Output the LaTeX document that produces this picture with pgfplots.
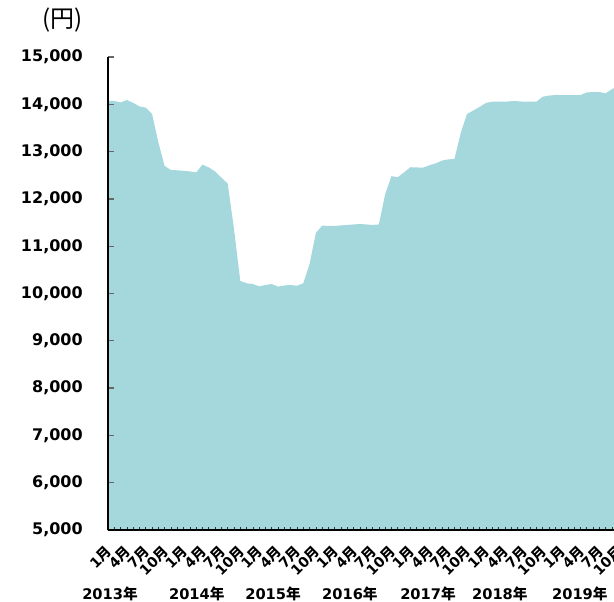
\documentclass[border=0pt]{standalone}
\usepackage{pgfplots}
\pgfplotsset{compat=1.18}
\usepackage{pgfplotstable}
\usepackage{fontspec}
\setmainfont{DejaVu Sans}
\newfontfamily\cjk{Noto Sans CJK JP}
\definecolor{areafill}{RGB}{164,216,220}
\newcommand\M{{\cjk 月}}
\newcommand\N{{\cjk 年}}
\pgfplotstableread{
i v
0 14070
1 14070
2 14040
3 14090
4 14030
5 13955
6 13930
7 13795
8 13190
9 12695
10 12610
11 12605
12 12595
13 12580
14 12560
15 12725
16 12665
17 12580
18 12450
19 12325
20 11365
21 10265
22 10215
23 10200
24 10150
25 10180
26 10200
27 10145
28 10170
29 10180
30 10165
31 10215
32 10625
33 11280
34 11435
35 11430
36 11430
37 11440
38 11450
39 11460
40 11470
41 11460
42 11450
43 11460
44 12100
45 12480
46 12460
47 12560
48 12670
49 12665
50 12660
51 12710
52 12750
53 12810
54 12835
55 12845
56 13395
57 13795
58 13870
59 13945
60 14030
61 14055
62 14055
63 14055
64 14065
65 14065
66 14055
67 14055
68 14055
69 14160
70 14185
71 14195
72 14195
73 14195
74 14195
75 14195
76 14250
77 14260
78 14260
79 14230
80 14320
81 14380
}\prices
\begin{document}
\begin{tikzpicture}
\begin{axis}[
  scale only axis, width=382.7pt, height=354.75pt,
  xmin=0, xmax=81, ymin=5000, ymax=15000,
  axis x line*=bottom, axis y line*=left,
  axis line style={black, line width=0.9pt},
  axis on top, clip=false,
  tick align=inside,
  scaled y ticks=false,
  ytick={5000,6000,...,15000},
  xtick={0,3,...,81}, minor xtick={0,1,...,81},
  xticklabels={1\M,4\M,7\M,10\M,1\M,4\M,7\M,10\M,1\M,4\M,7\M,10\M,1\M,4\M,7\M,10\M,1\M,4\M,7\M,10\M,1\M,4\M,7\M,10\M,1\M,4\M,7\M,10\M},
  ytick style={gray!80!black, line width=1pt, /pgfplots/major tick length=4.5pt},
  xtick style={black!80, line width=0.5pt, /pgfplots/major tick length=2.25pt},
  minor x tick style={black!80, line width=0.5pt},
  minor tick length=2.25pt,
  /pgf/number format/.cd, 1000 sep={,}, assume math mode=true, /pgfplots/.cd,
  yticklabel style={font=\bfseries\fontsize{12}{12}\selectfont, anchor=east, inner sep=0pt, xshift=-18.75pt},
  xticklabel style={font=\bfseries\fontsize{10.5}{11}\selectfont, yshift=-14.5pt, xshift=1pt, rotate=45, anchor=east, inner sep=0pt},
]
\addplot[fill=areafill, draw=none] table[x=i, y=v] {\prices} \closedcycle;
\coordinate (O) at (rel axis cs:0,0);
\coordinate (T) at (rel axis cs:0,1);
\node[font=\cjk\fontsize{18}{18}\selectfont, anchor=center, xshift=-34pt, yshift=27.75pt] at (rel axis cs:0,1) {(円)};
\foreach \yr/\p in {2013/0.32, 2014/14.1, 2015/26.2, 2016/38.4, 2017/50.8, 2018/62.2, 2019/74.9}{
  \edef\tmp{\noexpand\node[font=\noexpand\bfseries\noexpand\fontsize{11}{12}\noexpand\selectfont, anchor=base, yshift=-51.75pt] at (axis cs:\p,5000) {\yr\noexpand\N};}
  \tmp
}
\end{axis}
\pgfresetboundingbox
\path ([xshift=-81pt,yshift=-53.25pt]O) rectangle ([xshift=379.5pt,yshift=42.75pt]T);
\end{tikzpicture}
\end{document}
